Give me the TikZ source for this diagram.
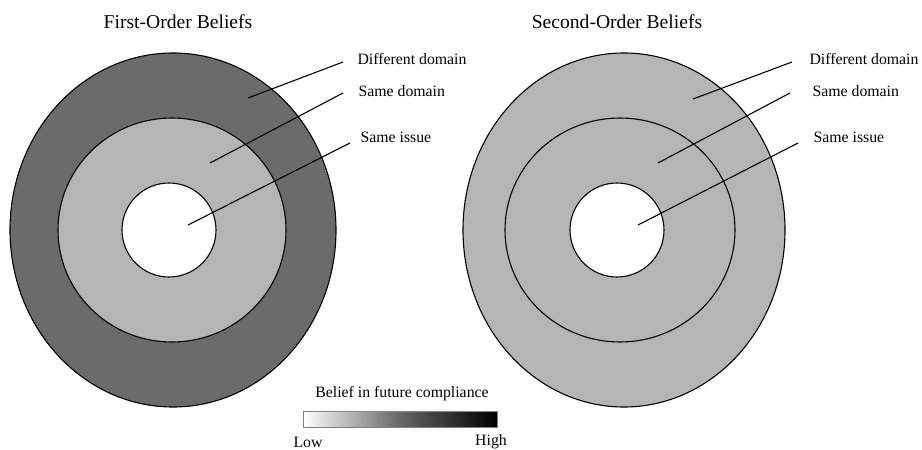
\documentclass[tikz,border=0pt]{standalone}
\usepackage{fontspec}
\setmainfont{Liberation Serif}
\definecolor{darkring}{gray}{0.42}
\definecolor{lightring}{gray}{0.71}

\begin{document}
\begin{tikzpicture}[x=1pt,y=-1pt,line width=1.1pt,
  lbl/.style={anchor=west,inner sep=0pt,font=\fontsize{15.8}{17}\selectfont},
  ttl/.style={inner sep=0pt,font=\fontsize{19.6}{22}\selectfont}]
   \useasboundingbox (0,0) rectangle (922,450);
   % first-order beliefs
   \draw[fill=darkring] (173,230) ellipse [x radius=163pt, y radius=177pt];
   \draw[fill=lightring] (172,230) ellipse [x radius=114pt, y radius=112pt];
   \draw[fill=white] (169,230) circle [radius=47pt];
   \node[ttl] (ttlA) at (178,22) {First-Order Beliefs};
   \node[lbl] (diffA) at (357,59) {Different domain};
   \node[lbl] (domA) at (358,91) {Same domain};
   \node[lbl] (issA) at (360,137) {Same issue};
   \coordinate (diffAin) at (248,98);  \coordinate (diffAout) at (343,62);
   \coordinate (domAin) at (210,163);  \coordinate (domAout) at (343,93);
   \coordinate (issAin) at (188,225);  \coordinate (issAout) at (350,143);
   % second-order beliefs
   \draw[fill=lightring] (624,230) ellipse [x radius=161pt, y radius=177pt];
   \draw (620,230) ellipse [x radius=115pt, y radius=112pt];
   \draw[fill=white] (617,230) circle [radius=47pt];
   \node[ttl] (ttlB) at (617,22) {Second-Order Beliefs};
   \node[lbl] (diffB) at (809,59) {Different domain};
   \node[lbl] (domB) at (812,91) {Same domain};
   \node[lbl] (issB) at (813,137) {Same issue};
   \coordinate (diffBin) at (693,99);  \coordinate (diffBout) at (792,62);
   \coordinate (domBin) at (658,163);  \coordinate (domBout) at (790,93);
   \coordinate (issBin) at (638,225);  \coordinate (issBout) at (798,143);
   \foreach \w in {diffA,domA,issA,diffB,domB,issB}{
     \draw (\w in) -- (\w out);
   }
   % legend
   \node[lbl,anchor=center] (legend) at (402,394) {Belief in future compliance};
   \node[draw=gray,line width=0.8pt,left color=white,right color=black,middle color=black!60,
     minimum width=194pt,minimum height=16pt,inner sep=0pt] (bar) at (400,419) {};
   \node[lbl,anchor=center] (low) at (308,442) {Low};
   \node[lbl,anchor=center] (high) at (491,442) {High};
\end{tikzpicture}
\end{document}
